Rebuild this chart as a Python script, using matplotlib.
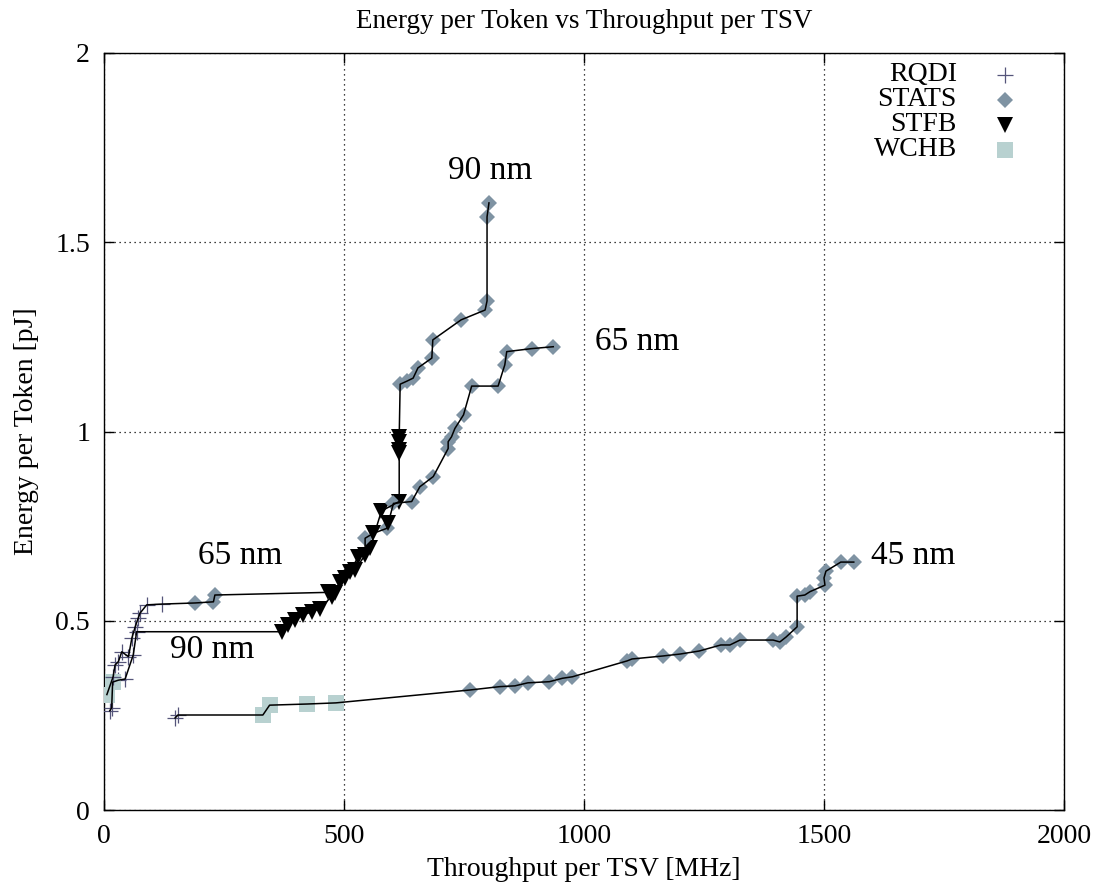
import matplotlib
matplotlib.use('Agg')
import matplotlib.pyplot as plt

plt.rcParams['font.family'] = ['Liberation Serif', 'DejaVu Serif']

# style codes: R = RQDI, S = STATS, T = STFB, W = WCHB
# 90 nm points, in the order the line joins them
n90_thr = [12, 16, 18, 30, 44, 61, 68,
           370, 384, 398, 415, 433, 450, 474, 492, 512, 530, 554, 578, 615,
           615, 615, 615, 615,
           617, 631, 644, 654, 683, 685, 744, 794, 798, 798, 802]
n90_en = [0.262, 0.27, 0.338, 0.343, 0.346, 0.41, 0.471,
          0.471, 0.489, 0.502, 0.515, 0.524, 0.532, 0.564, 0.603, 0.63, 0.669, 0.691, 0.79, 0.815,
          0.942, 0.951, 0.973, 0.986,
          1.125, 1.133, 1.141, 1.168, 1.194, 1.242, 1.295, 1.321, 1.345, 1.567, 1.604]
n90_sty = ['R', 'R', 'W', 'R', 'R', 'R', 'R',
           'T', 'T', 'T', 'T', 'T', 'T', 'T', 'T', 'T', 'T', 'T', 'T', 'T',
           'T', 'T', 'T', 'T',
           'S', 'S', 'S', 'S', 'S', 'S', 'S', 'S', 'S', 'S', 'S']

# 65 nm
n65_thr = [6, 19, 23, 30, 37, 51, 58, 65, 71, 75, 89, 120,
           190, 228, 231,
           467, 481, 502, 523, 544, 544, 561, 589, 592, 603, 641, 658, 686,
           717, 717, 724, 731, 749, 766, 821, 835, 839, 891, 936]
n65_en = [0.305, 0.352, 0.383, 0.392, 0.418, 0.405, 0.454, 0.484, 0.506, 0.52, 0.542, 0.544,
          0.547, 0.55, 0.568,
          0.575, 0.572, 0.612, 0.634, 0.674, 0.718, 0.731, 0.744, 0.757, 0.81, 0.815, 0.854, 0.881,
          0.955, 0.973, 0.986, 1.008, 1.044, 1.12, 1.12, 1.176, 1.211, 1.219, 1.224]
n65_sty = ['W', 'R', 'R', 'R', 'R', 'R', 'R', 'R', 'R', 'R', 'R', 'R',
           'S', 'S', 'S',
           'T', 'T', 'T', 'T', 'T', 'S', 'T', 'S', 'T', 'S', 'S', 'S', 'S',
           'S', 'S', 'S', 'S', 'S', 'S', 'S', 'S', 'S', 'S', 'S']

# 45 nm
n45_thr = [148, 154, 331, 345, 423, 483,
           762, 825, 856, 883, 928, 955, 976, 1090, 1100, 1165, 1200, 1240,
           1285, 1304, 1325, 1394, 1408, 1421, 1444, 1444, 1460, 1471, 1502,
           1500, 1504, 1535, 1562]
n45_en = [0.243, 0.251, 0.251, 0.277, 0.28, 0.283,
          0.317, 0.326, 0.328, 0.336, 0.339, 0.348, 0.352, 0.394, 0.399, 0.407, 0.412, 0.42,
          0.436, 0.436, 0.449, 0.449, 0.444, 0.457, 0.484, 0.565, 0.568, 0.577, 0.594,
          0.613, 0.631, 0.655, 0.655]
n45_sty = ['R', 'R', 'W', 'W', 'W', 'W',
           'S', 'S', 'S', 'S', 'S', 'S', 'S', 'S', 'S', 'S', 'S', 'S',
           'S', 'S', 'S', 'S', 'S', 'S', 'S', 'S', 'S', 'S', 'S',
           'S', 'S', 'S', 'S']

nodes = [(n90_thr, n90_en, n90_sty), (n65_thr, n65_en, n65_sty), (n45_thr, n45_en, n45_sty)]

styles = ['R', 'S', 'T', 'W']
style_names = ['RQDI', 'STATS', 'STFB', 'WCHB']
markers = ['+', 'D', 'v', 's']
colors = ['#55557a', '#7f93a3', '#000000', '#b8d1d0']
msizes = [12, 8.5, 11, 11]

labels = ['90 nm', '65 nm', '65 nm', '90 nm', '45 nm']
label_x = [804, 1110, 283, 225, 1685]
label_y = [1.69, 1.236, 0.671, 0.423, 0.671]

fig = plt.figure(figsize=(11.01, 8.91), dpi=100)
ax = fig.add_axes([104 / 1101, 81 / 891, 960 / 1101, 757 / 891])

for thr, en, sty in nodes:
    for k, s in enumerate(styles):
        xs = [thr[i] for i in range(len(thr)) if sty[i] == s]
        ys = [en[i] for i in range(len(thr)) if sty[i] == s]
        if s == 'R':
            ax.plot(xs, ys, linestyle='none', marker='+', ms=msizes[k], mew=0.9,
                    color=colors[k], zorder=3)
        else:
            ax.plot(xs, ys, linestyle='none', marker=markers[k], ms=msizes[k], mew=0,
                    color=colors[k], zorder=3)
    ax.plot(thr, en, '-', color='black', lw=1.1, zorder=4)

for i in range(len(labels)):
    ax.text(label_x[i], label_y[i], labels[i], fontsize=24, ha='center', va='center')

# legend, right-aligned text with marker on the right
for k in range(4):
    yk = 0.971 - k * 0.033
    ax.text(0.8885, yk, style_names[k], transform=ax.transAxes, fontsize=20,
            ha='right', va='center')
    if styles[k] == 'R':
        ax.plot([0.9385], [yk], transform=ax.transAxes, marker='+', ms=msizes[k],
                mew=0.9, color=colors[k], linestyle='none')
    else:
        ax.plot([0.9385], [yk], transform=ax.transAxes, marker=markers[k], ms=msizes[k],
                mew=0, color=colors[k], linestyle='none')

ax.set_xlim(0, 2000)
ax.set_ylim(0, 2)
ax.set_xticks([0, 500, 1000, 1500, 2000])
ax.set_yticks([0, 0.5, 1, 1.5, 2])
ax.set_yticklabels(['0', '0.5', '1', '1.5', '2'])
ax.grid(True, color='black', linestyle=(0, (1, 3)), lw=0.9)
ax.tick_params(direction='in', top=True, right=True, length=7, width=1, labelsize=20)
ax.tick_params(axis='x', pad=10)
ax.tick_params(axis='y', pad=10)
for sp in ax.spines.values():
    sp.set_linewidth(1)

ax.set_xlabel('Throughput per TSV [MHz]', fontsize=20, labelpad=6)
ax.set_ylabel('Energy per Token [pJ]', fontsize=20, labelpad=12)
ax.set_title('Energy per Token vs Throughput per TSV', fontsize=19.5, pad=18)

fig.savefig('out.png', dpi=100)
